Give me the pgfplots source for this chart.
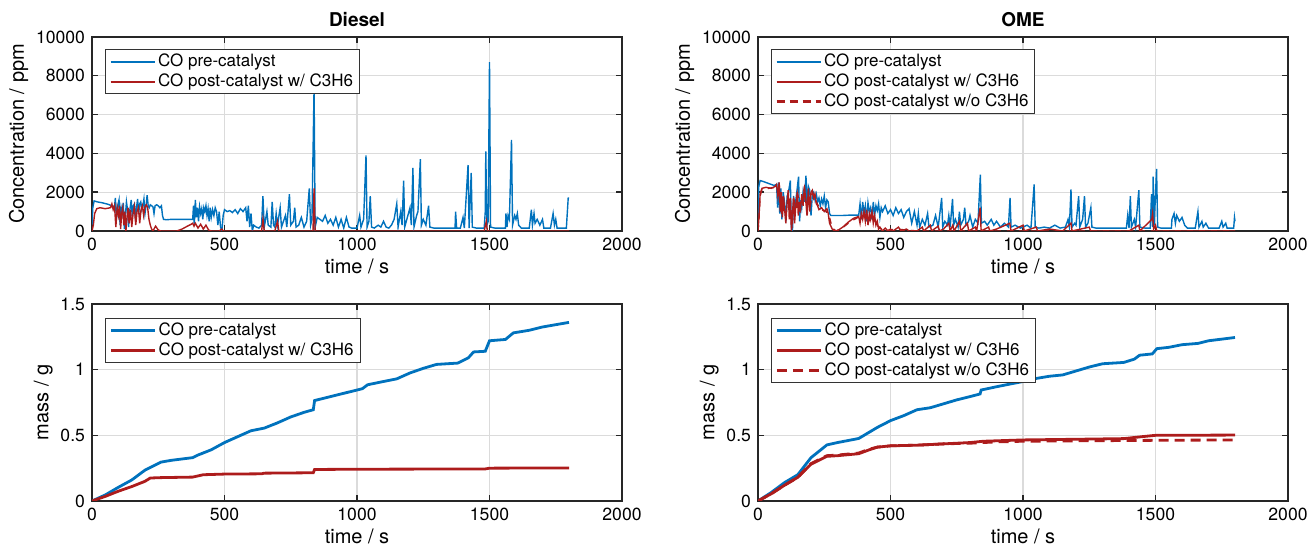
\documentclass[border=0pt]{standalone}
\usepackage{fontspec}
\setmainfont{TeX Gyre Heros}
\usepackage{pgfplots}
\usepackage{pgfplotstable}
\pgfplotsset{compat=1.18}
\definecolor{mblue}{rgb}{0,0.447,0.741}
\definecolor{mred}{rgb}{0.68,0.11,0.11}

\pgfplotstableread{
t v
0 300
3 1200
8 1550
20 1500
40 1450
60 1380
75 1300
85 1250
88 1700
92 600
97 1300
102 1600
106 300
110 1200
114 900
118 1450
122 100
126 800
130 1500
134 1100
138 200
142 1000
148 1600
152 700
156 1300
160 1400
164 600
168 1200
172 1650
176 900
180 1400
184 1500
188 1100
192 1300
196 1650
200 900
204 1300
208 1850
212 1300
216 1200
220 1350
225 1300
230 1250
234 900
238 1300
244 1350
250 1300
256 1200
262 1300
266 800
270 600
280 580
300 600
330 600
360 600
380 600
383 1300
386 300
390 1600
394 700
398 1200
402 500
406 1250
410 900
414 1150
418 600
422 1200
426 1000
430 1300
434 800
438 1150
442 500
446 1200
450 700
455 1100
460 800
465 1200
470 1000
475 300
480 1000
485 200
490 0
495 800
500 1100
510 1000
520 1050
530 950
540 1100
550 900
560 1150
570 1000
580 1200
585 500
590 1300
595 200
600 900
605 0
610 300
620 200
630 150
640 300
645 1800
650 200
660 1000
665 300
675 200
680 1500
685 300
690 200
695 900
700 300
710 1200
715 200
720 400
730 800
735 200
745 1900
750 300
760 500
765 1200
770 200
780 300
790 700
800 200
810 500
820 2200
825 300
830 600
838 7400
842 200
850 700
860 600
870 500
880 800
890 400
900 600
910 300
920 700
930 200
940 600
950 150
960 700
970 200
980 150
1000 150
1010 800
1015 200
1025 600
1034 3900
1038 200
1045 500
1050 1800
1055 200
1065 150
1080 300
1090 200
1100 500
1110 200
1120 150
1130 300
1140 600
1150 1400
1155 200
1165 1000
1170 300
1176 2600
1180 200
1190 700
1200 1200
1205 300
1211 3250
1215 200
1225 800
1230 1000
1239 3700
1243 300
1250 600
1260 300
1270 1300
1275 200
1290 150
1370 150
1372 1000
1376 150
1390 150
1400 700
1405 150
1419 3400
1423 150
1431 3000
1435 200
1450 150
1480 150
1484 1000
1486 4100
1490 300
1495 500
1500 8700
1504 200
1520 150
1560 150
1562 900
1566 200
1570 800
1575 600
1583 4700
1587 300
1595 800
1600 600
1605 900
1610 300
1620 150
1650 150
1658 1100
1662 300
1668 900
1672 400
1680 600
1690 300
1700 600
1705 150
1730 150
1740 900
1745 300
1750 600
1755 150
1790 150
1797 1700
1800 1700
}\dieselpre

\pgfplotstableread{
t v
0 0
5 300
10 900
18 1150
30 1200
50 1150
70 1200
75 1400
80 1100
85 1300
90 200
95 1200
100 800
104 1300
108 100
112 900
116 1200
120 300
124 1000
128 0
132 700
136 1200
140 400
145 1100
150 200
155 900
160 1250
165 300
170 1000
175 1200
180 400
185 1100
190 1300
195 800
200 1250
205 1350
210 1200
215 600
220 300
225 100
230 0
240 250
250 50
260 0
320 0
340 100
360 250
375 350
380 400
385 250
390 400
400 150
410 350
420 100
430 300
440 50
450 0
480 0
490 100
495 0
640 0
645 600
650 0
690 0
700 500
705 0
834 0
838 2200
842 0
1480 0
1488 500
1492 0
1800 0
}\dieselpost

\pgfplotstableread{
t v
0 300
3 2300
8 2600
20 2550
40 2450
60 2350
70 2400
74 1200
78 2500
82 900
86 2200
90 600
95 2000
100 1500
105 500
110 1800
115 2000
122 2600
126 200
130 0
134 1800
138 900
142 1500
148 2200
153 2800
157 500
161 1600
165 1200
170 2000
175 1500
181 2850
185 1000
190 2300
195 2100
200 800
205 1900
210 2000
215 1600
220 1900
225 1500
230 1700
235 1300
240 1650
245 1400
250 1800
255 1200
260 1600
265 1500
270 900
275 800
290 800
320 800
350 820
380 820
385 1400
390 600
395 1500
400 900
405 1300
410 500
415 1450
420 1000
425 1200
430 600
435 1500
440 800
445 1300
450 1050
455 1400
460 700
465 1200
470 1000
480 1300
490 900
500 1100
510 800
520 1200
530 900
540 1100
550 700
560 1000
570 1150
580 400
590 1000
600 300
605 900
610 200
620 600
630 300
640 900
645 200
660 300
670 800
680 200
693 1700
697 200
705 500
715 300
720 800
725 200
734 1650
738 300
745 600
755 200
760 1000
765 300
775 600
780 1200
785 300
795 500
800 800
810 200
820 600
830 400
839 2900
843 400
855 500
865 300
880 600
890 300
900 500
915 200
930 400
945 200
951 1700
955 200
970 300
990 150
1000 200
1015 300
1030 150
1042 2400
1046 200
1060 150
1080 200
1100 150
1120 300
1140 150
1160 200
1170 600
1175 200
1181 2150
1185 200
1195 400
1200 300
1210 1800
1214 200
1225 600
1232 1800
1236 200
1245 400
1256 1200
1260 200
1275 150
1390 150
1395 800
1400 150
1405 1800
1409 200
1420 600
1425 200
1437 2100
1441 200
1460 150
1480 150
1485 1900
1489 200
1491 2800
1495 300
1504 3200
1508 200
1520 150
1560 150
1562 600
1570 900
1575 400
1580 800
1590 500
1600 700
1610 300
1620 150
1650 150
1660 1000
1664 200
1675 500
1680 200
1690 400
1700 150
1740 150
1750 500
1755 200
1765 400
1770 150
1795 150
1798 700
1800 500
}\omepre

\pgfplotstableread{
t v
0 0
4 800
8 1900
15 2200
30 2250
50 2200
65 2300
70 2400
75 1800
80 2500
84 1000
88 2000
92 700
96 1800
100 1200
105 400
110 1500
114 2100
118 600
122 1700
126 0
130 900
134 1700
138 400
142 1200
148 2000
152 800
156 1500
160 1000
165 1900
170 1300
175 2300
180 1600
185 800
190 2200
195 1000
200 2000
205 2100
210 1700
215 1900
220 1400
225 1300
230 1100
240 1200
250 1000
260 1150
265 900
270 400
280 100
290 0
300 20
320 200
340 450
360 650
380 750
385 400
390 900
395 600
400 1000
405 500
410 1100
415 300
420 900
425 600
430 1000
435 400
440 800
445 300
450 500
455 100
460 200
470 0
480 150
490 0
500 100
510 0
530 200
540 0
560 100
570 0
600 0
620 200
625 0
650 300
655 0
680 250
685 0
700 100
720 400
725 0
735 300
740 0
760 500
765 0
790 400
795 0
820 200
825 0
838 1200
842 0
870 200
875 0
900 100
950 400
955 0
1000 300
1005 0
1050 200
1055 0
1100 100
1150 0
1181 400
1185 0
1250 200
1255 0
1400 0
1437 300
1441 0
1486 600
1489 900
1493 100
1500 300
1505 0
1800 0
}\omepost

\pgfplotstableread{
t v
0 0
4 700
8 1800
15 2150
40 2200
65 2250
72 2300
80 2400
86 1100
92 800
100 1300
110 1400
122 1600
128 100
136 1600
145 1100
150 1900
160 1100
175 2200
185 900
195 1100
205 2000
220 1500
235 1100
255 1050
268 800
280 150
295 0
320 180
350 500
380 720
390 850
400 950
415 400
430 900
445 350
460 150
475 0
520 100
600 0
1800 0
}\omewo

\pgfplotstableread{
t m
0 0
50 0.046
100 0.105
150 0.16
200 0.235
260 0.296
300 0.31
380 0.33
400 0.35
450 0.39
500 0.445
550 0.49
600 0.535
650 0.555
700 0.595
750 0.64
800 0.675
835 0.695
840 0.765
900 0.795
950 0.82
1000 0.845
1020 0.855
1040 0.885
1100 0.91
1150 0.93
1200 0.975
1250 1.01
1300 1.04
1380 1.05
1420 1.09
1440 1.135
1484 1.14
1500 1.22
1560 1.23
1590 1.28
1650 1.3
1700 1.325
1800 1.36
}\dieselpremass

\pgfplotstableread{
t m
0 0
50 0.035
100 0.075
150 0.11
200 0.15
220 0.175
260 0.178
380 0.182
420 0.2
500 0.205
640 0.207
650 0.212
835 0.215
840 0.24
1000 0.242
1484 0.244
1500 0.25
1800 0.252
}\dieselpostmass

\pgfplotstableread{
t m
0 0
50 0.065
100 0.14
150 0.2
200 0.33
260 0.427
300 0.445
380 0.476
400 0.5
450 0.56
500 0.612
550 0.65
600 0.695
650 0.71
700 0.74
750 0.77
800 0.795
838 0.815
842 0.845
900 0.87
950 0.89
1000 0.91
1040 0.93
1100 0.95
1150 0.96
1200 0.99
1250 1.02
1300 1.045
1380 1.055
1420 1.08
1440 1.11
1488 1.12
1505 1.16
1550 1.17
1600 1.19
1660 1.2
1700 1.22
1800 1.245
}\omepremass

\pgfplotstableread{
t m
0 0
50 0.055
100 0.12
150 0.18
200 0.28
260 0.34
300 0.345
380 0.36
420 0.39
450 0.41
500 0.42
600 0.425
700 0.435
800 0.445
850 0.455
1000 0.465
1200 0.47
1380 0.475
1450 0.49
1500 0.5
1800 0.502
}\omepostmass

\pgfplotstableread{
t m
0 0
50 0.055
100 0.12
150 0.18
200 0.285
260 0.345
300 0.35
380 0.365
420 0.395
450 0.41
500 0.42
600 0.425
700 0.435
800 0.44
900 0.45
1000 0.455
1200 0.458
1500 0.462
1800 0.465
}\omewomass

\pgfplotsset{
  mstyle/.style={
    scale only axis, width=265pt,
    xmin=0, xmax=2000, xtick={0,500,1000,1500,2000},
    grid=major, major grid style={gray!28, line width=0.6pt},
    axis line style={black!85, line width=0.9pt},
    tick style={black!85, line width=0.7pt},
    tick align=inside, major tick length=3pt,
    xtick pos=both, ytick pos=both,
    /pgf/number format/assume math mode=true,
    /pgf/number format/1000 sep={},
    scaled ticks=false,
    every tick label/.append style={font=\fontsize{8.8}{10}\selectfont},
    label style={font=\fontsize{10}{12}\selectfont},
    title style={font=\fontsize{9.5}{11}\selectfont\bfseries, yshift=-4.5pt},
    xlabel={time / s},
    xlabel style={yshift=3pt},
    ylabel style={yshift=-3pt},
    legend cell align=left,
    legend style={draw=black!80, line width=0.5pt, fill=white,
      font=\fontsize{8.5}{9.7}\selectfont, inner xsep=2pt, inner ysep=1pt,
      row sep=-0.3pt, nodes={inner sep=1.2pt}},
  },
  cstyle/.style={mstyle, height=97pt, ymin=0, ymax=10000,
    ytick={0,2000,4000,6000,8000,10000}, ylabel={Concentration / ppm},
    legend style={at={(0.0245,0.938)}, anchor=north west}},
  gstyle/.style={mstyle, height=98.5pt, ymin=0, ymax=1.5,
    ytick={0,0.5,1,1.5}, ylabel={mass / g},
    legend style={at={(0.0245,0.929)}, anchor=north west}},
}

\begin{document}
\begin{tikzpicture}
\path[use as bounding box] (0,0) rectangle (654.5pt,272.5pt);

\begin{axis}[cstyle, at={(46pt,157pt)}, anchor=south west, title={Diesel}]
\addplot[mblue, line width=0.7pt, forget plot] table[x=t,y=v] {\dieselpre};
\addplot[mred, line width=0.7pt, forget plot] table[x=t,y=v] {\dieselpost};
\addlegendimage{legend image code/.code={\draw[mblue, line width=1.1pt] (0pt,0pt) -- (22pt,0pt);}}
\addlegendimage{legend image code/.code={\draw[mred, line width=1.1pt] (0pt,0pt) -- (22pt,0pt);}}
\legend{CO pre-catalyst, CO post-catalyst w/ C3H6}
\end{axis}

\begin{axis}[cstyle, at={(379pt,157pt)}, anchor=south west, title={OME}]
\addplot[mblue, line width=0.7pt, forget plot] table[x=t,y=v] {\omepre};
\addplot[mred, line width=0.7pt, dashed, forget plot] table[x=t,y=v] {\omewo};
\addplot[mred, line width=0.7pt, forget plot] table[x=t,y=v] {\omepost};
\addlegendimage{legend image code/.code={\draw[mblue, line width=1.1pt] (0pt,0pt) -- (22pt,0pt);}}
\addlegendimage{legend image code/.code={\draw[mred, line width=1.1pt] (0pt,0pt) -- (22pt,0pt);}}
\addlegendimage{legend image code/.code={\draw[mred, line width=1.1pt, dash pattern=on 4pt off 2.5pt] (0pt,0pt) -- (22pt,0pt);}}
\legend{CO pre-catalyst, CO post-catalyst w/ C3H6, CO post-catalyst w/o C3H6}
\end{axis}

\begin{axis}[gstyle, at={(46pt,22pt)}, anchor=south west]
\addplot[mblue, line width=1.4pt, forget plot] table[x=t,y=m] {\dieselpremass};
\addplot[mred, line width=1.4pt, forget plot] table[x=t,y=m] {\dieselpostmass};
\addlegendimage{legend image code/.code={\draw[mblue, line width=1.4pt] (0pt,0pt) -- (22pt,0pt);}}
\addlegendimage{legend image code/.code={\draw[mred, line width=1.4pt] (0pt,0pt) -- (22pt,0pt);}}
\legend{CO pre-catalyst, CO post-catalyst w/ C3H6}
\end{axis}

\begin{axis}[gstyle, at={(379pt,22pt)}, anchor=south west]
\addplot[mblue, line width=1.4pt, forget plot] table[x=t,y=m] {\omepremass};
\addplot[mred, line width=1.4pt, dash pattern=on 5pt off 3pt, forget plot] table[x=t,y=m] {\omewomass};
\addplot[mred, line width=1.4pt, forget plot] table[x=t,y=m] {\omepostmass};
\addlegendimage{legend image code/.code={\draw[mblue, line width=1.4pt] (0pt,0pt) -- (22pt,0pt);}}
\addlegendimage{legend image code/.code={\draw[mred, line width=1.4pt] (0pt,0pt) -- (22pt,0pt);}}
\addlegendimage{legend image code/.code={\draw[mred, line width=1.4pt, dash pattern=on 5pt off 3pt] (0pt,0pt) -- (22pt,0pt);}}
\legend{CO pre-catalyst, CO post-catalyst w/ C3H6, CO post-catalyst w/o C3H6}
\end{axis}
\end{tikzpicture}
\end{document}
